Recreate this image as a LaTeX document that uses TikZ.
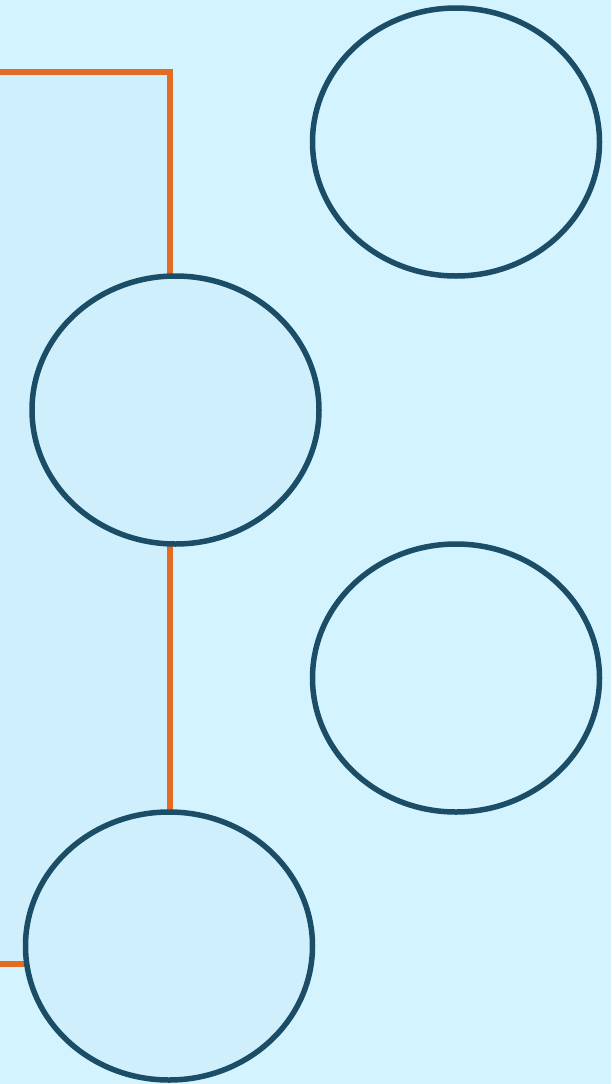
\documentclass[tikz,border=0pt]{standalone}
\usetikzlibrary{shapes.geometric}
\definecolor{bgc}{HTML}{D3F3FF}
\definecolor{regionc}{HTML}{CFEFFC}
\definecolor{edgec}{HTML}{1B4D66}
\definecolor{linkc}{HTML}{E36C22}
\pgfdeclarelayer{bg}
\pgfsetlayers{bg,main}
\tikzset{
  blob/.style={ellipse, draw=edgec, line width=5.5pt, minimum width=287pt, minimum height=268pt, inner sep=0pt, outer sep=0pt},
  link/.style={draw=linkc, line width=5.5pt}
}
\begin{document}
\begin{tikzpicture}[x=1pt,y=-1pt]
\useasboundingbox (0,0) rectangle (611,1084);
\node[blob, fill=bgc] (tr) at (456,142) {};
\node[blob, fill=regionc] (ml) at (175.5,410) {};
\node[blob, fill=bgc] (mr) at (456,678) {};
\node[blob, fill=regionc] (bl) at (169,946) {};
\coordinate (ctop) at (0,72);
\coordinate (cbot) at (0,964);
\coordinate (corner) at (170,72);
\begin{pgfonlayer}{bg}
\fill[bgc] (0,0) rectangle (611,1084);
\fill[regionc] (ctop) rectangle (cbot -| corner);
\draw[link] (ctop) -- (corner) -- (ml.north -| corner);
\draw[link] (ml.south -| corner) -- (bl.north -| corner);
\draw[link] (cbot) -- (bl.west |- cbot);
\end{pgfonlayer}
\end{tikzpicture}
\end{document}
